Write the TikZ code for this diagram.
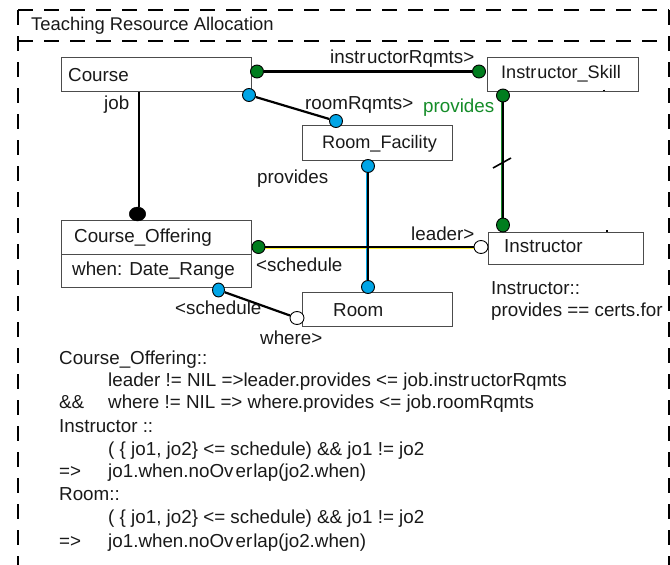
\documentclass[tikz,border=0pt]{standalone}
\usepackage{fontspec}
\setmainfont{Liberation Sans}
\usetikzlibrary{shapes.geometric,backgrounds}
\definecolor{dotgreen}{RGB}{0,125,30}
\definecolor{dotblue}{RGB}{0,165,230}
\definecolor{txtgreen}{RGB}{20,140,40}
\tikzset{
  lbl/.style={anchor=base west,inner sep=0pt,font=\fontsize{18.8}{22}\selectfont,text=black!90},
  lblsmall/.style={lbl,font=\fontsize{18.1}{22}\selectfont},
  cls/.style={draw=black!70,line width=1pt,fill=white,inner sep=0pt},
  enddot/.style={ellipse,draw=black,line width=0.9pt,inner sep=0pt,minimum width=#1,minimum height=13pt},
  gdot/.style={enddot=13pt,fill=dotgreen},
  bdot/.style={enddot=13pt,fill=dotblue},
  wdot/.style={enddot=14pt,fill=white},
  conn/.style={line width=2.2pt,black},
  framedash/.style={line width=1.6pt,dash pattern=on 15pt off 11pt},
}
\begin{document}
\begin{tikzpicture}[x=1pt,y=-1pt]
\useasboundingbox (0,0) rectangle (670,565);
% frame
\draw[framedash] (18,10) -- (669,10);
\draw[framedash] (18,41) -- (669,41);
\draw[framedash] (18,10) -- (18,565);
\draw[framedash] (669,10) -- (669,565);
\node[lbl,font=\fontsize{18.4}{22}\selectfont] (title) at (31,30) {Teaching Resource Allocation};
% classes
\node[cls,minimum width=189.5pt,minimum height=34pt] (course) at (156.25,74.5) {};
\node[cls,minimum width=151pt,minimum height=34pt] (skill) at (562.5,74.5) {};
\node[cls,minimum width=150pt,minimum height=34.5pt] (facility) at (377,142.75) {};
\node[cls,minimum width=189.5pt,minimum height=33.5pt] (offer) at (156.25,237.25) {};
\node[cls,minimum width=189.5pt,minimum height=33pt] (when) at (156.25,270.5) {};
\node[cls,minimum width=155pt,minimum height=32pt] (instr) at (565.5,248) {};
\node[cls,minimum width=150pt,minimum height=33.5pt] (room) at (377,309.25) {};
% end dots
\node[gdot] (d1) at (257,71.5) {};
\node[gdot] (d2) at (479,71.5) {};
\node[bdot] (d3) at (249,95) {};
\node[bdot] (d4) at (336,121) {};
\node[gdot] (d5) at (503,95.5) {};
\node[enddot=13pt,minimum height=14pt,fill=dotgreen] (d6) at (503,225) {};
\node[bdot] (d7) at (368,166) {};
\node[bdot] (d8) at (368,287) {};
\node[gdot] (d9) at (258.5,247) {};
\node[wdot,minimum height=13pt] (d10) at (481,247) {};
\node[enddot=12pt,minimum height=14pt,fill=dotblue] (d11) at (218.5,290) {};
\node[wdot] (d12) at (297,318) {};
\node[ellipse,fill=black,draw=black,inner sep=0pt,minimum width=16.5pt,minimum height=14pt] (jobdot) at (137.5,214) {};
\coordinate (jobtop) at (139,91.5);
\coordinate (jobend) at (139,207);
\coordinate (s1) at (493,168);
\coordinate (s2) at (511,158);
\coordinate (t1) at (604,89.5);
\coordinate (t2) at (604,91);
\coordinate (t3) at (607,230);
\coordinate (t4) at (607,232);
\begin{scope}[on background layer]
  \draw[yellow!80!white,line width=0.5pt] ([yshift=-1.2pt]d1.east) -- ([yshift=-1.2pt]d2.west);
  \draw[yellow!80!white,line width=0.5pt] ([yshift=-1.2pt]d9.east) -- ([yshift=-1.2pt]d10.west);
  \draw[dotblue,line width=0.8pt] ([xshift=-1.4pt]d7.south) -- ([xshift=-1.4pt]d8.north);
  \draw[txtgreen,line width=0.8pt] ([xshift=-1.4pt]d5.south) -- ([xshift=-1.4pt]d6.north);
\end{scope}
\draw[conn] (d1) -- (d2);
\draw[conn] (d3) -- (d4);
\draw[conn] (d5) -- (d6);
\draw[conn] (d7) -- (d8);
\draw[conn] (d9) -- (d10);
\draw[conn] (d11) -- (d12);
\draw[conn] (jobtop) -- (jobend);
\draw[line width=1.6pt] (s1) -- (s2);
\draw[line width=1.2pt] (t1) -- (t2);
\draw[line width=1.2pt] (t3) -- (t4);
% class names
\node[lbl] (n1) at (68,81) {Course};
\node[lblsmall] (n2) at (501,78) {Instr\kern1pt uctor\_Skill};
\node[lblsmall] (n3) at (322,148) {Room\_Facility};
\node[lbl] (n4) at (74,242) {Course\_Offering};
\node[lbl] (n5) at (72,275) {when: Date\_Range};
\node[lbl] (n6) at (504,252) {Instructor};
\node[lbl] (n7) at (333,316) {Room};
% roles
\node[lbl] (r1) at (104,109) {job};
\node[lbl] (r2) at (330,63) {instr\kern1.5pt uctorRqmts>};
\node[lbl] (r3) at (305,109) {roomRqmts>};
\node[lbl,text=txtgreen] (r4) at (423,112) {provides};
\node[lbl] (r5) at (257,183) {provides};
\node[lbl] (r6) at (256,271) {<schedule};
\node[lbl] (r7) at (175,314) {<schedule};
\node[lbl] (r8) at (260,344) {where>};
\node[lbl] (r9) at (411,240) {leader>};
\node[lbl] (c1) at (491,294) {Instructor::};
\node[lbl] (c2) at (491,316) {provides == certs.for};
% constraints
\node[lbl] (k1) at (59,364) {Course\_Offering::};
\node[lbl] (k2) at (108,386) {leader != NIL =>leader.provides <= job.instr\kern1.5pt uctorRqmts};
\node[lbl] (k3) at (59,408) {\&\&};
\node[lbl] (k4) at (108,408) {where != NIL => where\kern-1pt.provides <= job.roomRqmts};
\node[lbl] (k5) at (59,432) {Instructor ::};
\node[lbl] (k6) at (108,455) {( \{ jo1, jo2\} <= schedule) \&\& jo1 != jo2};
\node[lbl] (k7) at (59,477) {=>};
\node[lbl] (k8) at (108,477) {jo1.when.noOv\kern2pt er\kern1pt lap(jo2.when)};
\node[lbl] (k9) at (59,500) {Room::};
\node[lbl] (k10) at (108,523) {( \{ jo1, jo2\} <= schedule) \&\& jo1 != jo2};
\node[lbl] (k11) at (59,547) {=>};
\node[lbl] (k12) at (108,547) {jo1.when.noOv\kern2pt er\kern1pt lap(jo2.when)};
\end{tikzpicture}
\end{document}
